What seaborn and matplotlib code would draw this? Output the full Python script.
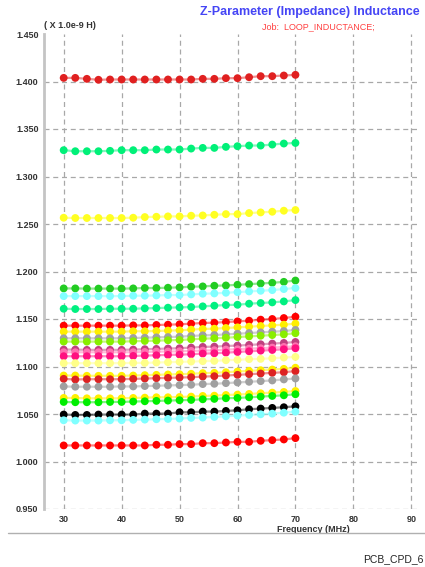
import matplotlib
matplotlib.use('Agg')
import matplotlib.pyplot as plt
import seaborn as sns
import pandas as pd
from matplotlib.patches import Rectangle

# Frequency points (MHz)
FREQ = [30, 32, 34, 36, 38, 40, 42, 44, 46, 48, 50, 52, 54, 56, 58, 60, 62, 64, 66, 68, 70]

# Inductance curves (x 1.0e-9 H), top to bottom
S01 = [1.4038, 1.4038, 1.4028, 1.4018, 1.4021, 1.4021, 1.4021, 1.4021, 1.4021, 1.4021, 1.4021,
       1.4021, 1.4028, 1.4028, 1.4035, 1.4035, 1.4045, 1.4056, 1.4056, 1.4063, 1.4070]
S02 = [1.3277, 1.3266, 1.3266, 1.3266, 1.3270, 1.3277, 1.3277, 1.3277, 1.3284, 1.3284, 1.3284,
       1.3294, 1.3301, 1.3301, 1.3312, 1.3319, 1.3326, 1.3326, 1.3336, 1.3347, 1.3353]
S03 = [1.2566, 1.2563, 1.2563, 1.2563, 1.2563, 1.2563, 1.2566, 1.2573, 1.2576, 1.2580, 1.2580,
       1.2587, 1.2590, 1.2597, 1.2604, 1.2604, 1.2615, 1.2622, 1.2629, 1.2640, 1.2647]
S04 = [1.1822, 1.1822, 1.1820, 1.1820, 1.1820, 1.1820, 1.1822, 1.1826, 1.1826, 1.1829, 1.1833,
       1.1840, 1.1843, 1.1850, 1.1853, 1.1860, 1.1867, 1.1874, 1.1881, 1.1891, 1.1905]
S05 = [1.1741, 1.1741, 1.1741, 1.1741, 1.1741, 1.1741, 1.1745, 1.1745, 1.1748, 1.1752, 1.1752,
       1.1759, 1.1766, 1.1769, 1.1776, 1.1783, 1.1790, 1.1797, 1.1804, 1.1815, 1.1826]
S06 = [1.1608, 1.1605, 1.1605, 1.1605, 1.1608, 1.1608, 1.1608, 1.1612, 1.1615, 1.1619, 1.1622,
       1.1626, 1.1633, 1.1640, 1.1647, 1.1650, 1.1661, 1.1668, 1.1675, 1.1685, 1.1699]
S07 = [1.1430, 1.1430, 1.1430, 1.1430, 1.1430, 1.1430, 1.1433, 1.1433, 1.1437, 1.1440, 1.1444,
       1.1451, 1.1458, 1.1461, 1.1468, 1.1475, 1.1482, 1.1493, 1.1500, 1.1510, 1.1524]
S08 = [1.1367, 1.1367, 1.1367, 1.1367, 1.1367, 1.1367, 1.1371, 1.1371, 1.1374, 1.1378, 1.1381,
       1.1388, 1.1395, 1.1398, 1.1405, 1.1412, 1.1419, 1.1426, 1.1433, 1.1440, 1.1451]
S09 = [1.1297, 1.1297, 1.1297, 1.1297, 1.1297, 1.1297, 1.1300, 1.1303, 1.1307, 1.1310, 1.1314,
       1.1321, 1.1328, 1.1331, 1.1338, 1.1345, 1.1352, 1.1359, 1.1366, 1.1373, 1.1385]
S10 = [1.1262, 1.1262, 1.1262, 1.1262, 1.1262, 1.1262, 1.1266, 1.1269, 1.1272, 1.1276, 1.1279,
       1.1286, 1.1293, 1.1297, 1.1303, 1.1310, 1.1317, 1.1324, 1.1331, 1.1338, 1.1350]
S11 = [1.1178, 1.1178, 1.1175, 1.1175, 1.1175, 1.1175, 1.1178, 1.1182, 1.1185, 1.1189, 1.1192,
       1.1199, 1.1206, 1.1209, 1.1216, 1.1220, 1.1227, 1.1234, 1.1241, 1.1248, 1.1258]
S12 = [1.1150, 1.1150, 1.1150, 1.1150, 1.1150, 1.1150, 1.1150, 1.1153, 1.1157, 1.1157, 1.1160,
       1.1164, 1.1167, 1.1171, 1.1178, 1.1181, 1.1188, 1.1192, 1.1199, 1.1206, 1.1213]
S13 = [1.1108, 1.1108, 1.1108, 1.1108, 1.1108, 1.1108, 1.1111, 1.1115, 1.1118, 1.1122, 1.1125,
       1.1129, 1.1136, 1.1139, 1.1146, 1.1153, 1.1160, 1.1167, 1.1174, 1.1181, 1.1192]
S14 = [1.1035, 1.1035, 1.1035, 1.1035, 1.1035, 1.1035, 1.1038, 1.1038, 1.1042, 1.1045, 1.1049,
       1.1052, 1.1056, 1.1059, 1.1066, 1.1070, 1.1077, 1.1080, 1.1087, 1.1094, 1.1101]
S15 = [1.0905, 1.0905, 1.0902, 1.0902, 1.0902, 1.0902, 1.0905, 1.0909, 1.0912, 1.0916, 1.0919,
       1.0923, 1.0930, 1.0933, 1.0940, 1.0947, 1.0954, 1.0961, 1.0968, 1.0975, 1.0987]
S16 = [1.0870, 1.0863, 1.0866, 1.0866, 1.0866, 1.0866, 1.0870, 1.0873, 1.0877, 1.0880, 1.0884,
       1.0887, 1.0894, 1.0898, 1.0905, 1.0912, 1.0919, 1.0926, 1.0933, 1.0940, 1.0951]
S17 = [1.0790, 1.0787, 1.0787, 1.0787, 1.0787, 1.0790, 1.0790, 1.0794, 1.0797, 1.0801, 1.0804,
       1.0808, 1.0815, 1.0818, 1.0825, 1.0832, 1.0839, 1.0846, 1.0853, 1.0864, 1.0874]
S18 = [1.0669, 1.0669, 1.0665, 1.0665, 1.0665, 1.0665, 1.0669, 1.0672, 1.0676, 1.0676, 1.0679,
       1.0683, 1.0690, 1.0693, 1.0700, 1.0704, 1.0711, 1.0718, 1.0725, 1.0732, 1.0742]
S19 = [1.0627, 1.0624, 1.0624, 1.0624, 1.0627, 1.0627, 1.0631, 1.0634, 1.0638, 1.0641, 1.0645,
       1.0648, 1.0655, 1.0659, 1.0666, 1.0669, 1.0676, 1.0683, 1.0690, 1.0697, 1.0708]
S20 = [1.0494, 1.0490, 1.0490, 1.0494, 1.0494, 1.0494, 1.0494, 1.0504, 1.0504, 1.0504, 1.0518,
       1.0518, 1.0525, 1.0525, 1.0532, 1.0539, 1.0550, 1.0557, 1.0564, 1.0571, 1.0581]
S21 = [1.0434, 1.0431, 1.0431, 1.0431, 1.0434, 1.0434, 1.0438, 1.0441, 1.0445, 1.0448, 1.0452,
       1.0459, 1.0462, 1.0469, 1.0476, 1.0483, 1.0490, 1.0497, 1.0504, 1.0514, 1.0525]
S22 = [1.0169, 1.0169, 1.0169, 1.0169, 1.0169, 1.0169, 1.0169, 1.0169, 1.0176, 1.0176, 1.0183,
       1.0183, 1.0193, 1.0193, 1.0200, 1.0207, 1.0207, 1.0218, 1.0225, 1.0232, 1.0246]

SERIES = [S01, S02, S03, S04, S05, S06, S07, S08, S09, S10, S11,
          S12, S13, S14, S15, S16, S17, S18, S19, S20, S21, S22]
COLORS = ['#E02020', '#00F078', '#FFFF22', '#22CC22', '#80FFFF', '#00F080', '#FF0000',
          '#FFEE00', '#A0A0A0', '#88EE00', '#C04080', '#FF70B0', '#FF1080', '#FFFF88',
          '#FFEE00', '#DD2222', '#A0A0A0', '#FFEE00', '#00EE00', '#000000', '#80FFFF', '#FF0000']

XTICKS = [30, 40, 50, 60, 70, 80, 90]
YTICKS = [0.950, 1.000, 1.050, 1.100, 1.150, 1.200, 1.250, 1.300, 1.350, 1.400, 1.450]

rows = []
for i, vals in enumerate(SERIES):
    for f, v in zip(FREQ, vals):
        rows.append({'freq': f, 'L': v, 'curve': f'c{i}'})
df = pd.DataFrame(rows)
palette = {f'c{i}': c for i, c in enumerate(COLORS)}

sns.set_style('white')
plt.rcParams['font.family'] = ['Liberation Sans', 'DejaVu Sans']

fig = plt.figure(figsize=(4.25, 5.67), dpi=100)
ax = fig.add_axes([44 / 425, 1 - 509 / 567, 376 / 425, 475 / 567])

sns.lineplot(data=df, x='freq', y='L', hue='curve', palette=palette, alpha=0.5,
             linewidth=1.6, legend=False, ax=ax, zorder=3)
sns.scatterplot(data=df, x='freq', y='L', hue='curve', palette=palette, s=32,
                edgecolor='none', linewidth=0, legend=False, ax=ax, zorder=4)

ax.set_xlim(26.6, 91.5)
ax.set_ylim(0.950, 1.450)
ax.set_xticks(XTICKS)
ax.set_yticks(YTICKS)
ax.set_xticklabels([str(t) for t in XTICKS])
ax.set_yticklabels([f'{t:.3f}' for t in YTICKS])
ax.tick_params(length=0, labelsize=6.5, labelcolor='#333333', pad=4)
for lab in ax.get_xticklabels() + ax.get_yticklabels():
    lab.set_fontweight('bold')
grid_kw = dict(color='#A8A8A8', linestyle=(0, (4, 3)), linewidth=0.9, zorder=0)
ax.grid(True, axis='x', **grid_kw)
# horizontal grid, none along the top edge
for t in YTICKS[:-1]:
    ax.axhline(t, **grid_kw)
ax.set_axisbelow(True)
ax.set_xlabel('')
ax.set_ylabel('')
for side in ['top', 'right', 'bottom']:
    ax.spines[side].set_visible(False)
ax.spines['left'].set_color('#C4C4C4')
ax.spines['left'].set_linewidth(2)

# Titles and annotations
fig.text(420 / 425, 1 - 12 / 567, 'Z-Parameter (Impedance) Inductance', color='#4545F5',
         fontsize=9, fontweight='bold', ha='right', va='center')
fig.text(318 / 425, 1 - 27 / 567, 'Job:  LOOP_INDUCTANCE;', color='#FF4040',
         fontsize=6.5, ha='center', va='center')
fig.text(44 / 425, 1 - 25 / 567, '( X 1.0e-9 H)', color='#333333',
         fontsize=6.5, fontweight='bold', ha='left', va='center')
fig.text(313 / 425, 1 - 530 / 567, 'Frequency (MHz)', color='#333333',
         fontsize=6.5, fontweight='bold', ha='center', va='center')

# separator line clipping the axis label
fig.patches.append(Rectangle((0, 1 - 545 / 567), 1, 12 / 567, transform=fig.transFigure,
                             facecolor='white', edgecolor='none', zorder=5))
fig.lines.append(plt.Line2D([8 / 425, 1], [1 - 533 / 567, 1 - 533 / 567],
                            transform=fig.transFigure, color='#B0B0B0', linewidth=1, zorder=6))
fig.text(423 / 425, 1 - 559 / 567, 'PCB_CPD_6', color='#222222',
         fontsize=7.5, ha='right', va='center')

fig.savefig('out.png', dpi=100, facecolor='white')
